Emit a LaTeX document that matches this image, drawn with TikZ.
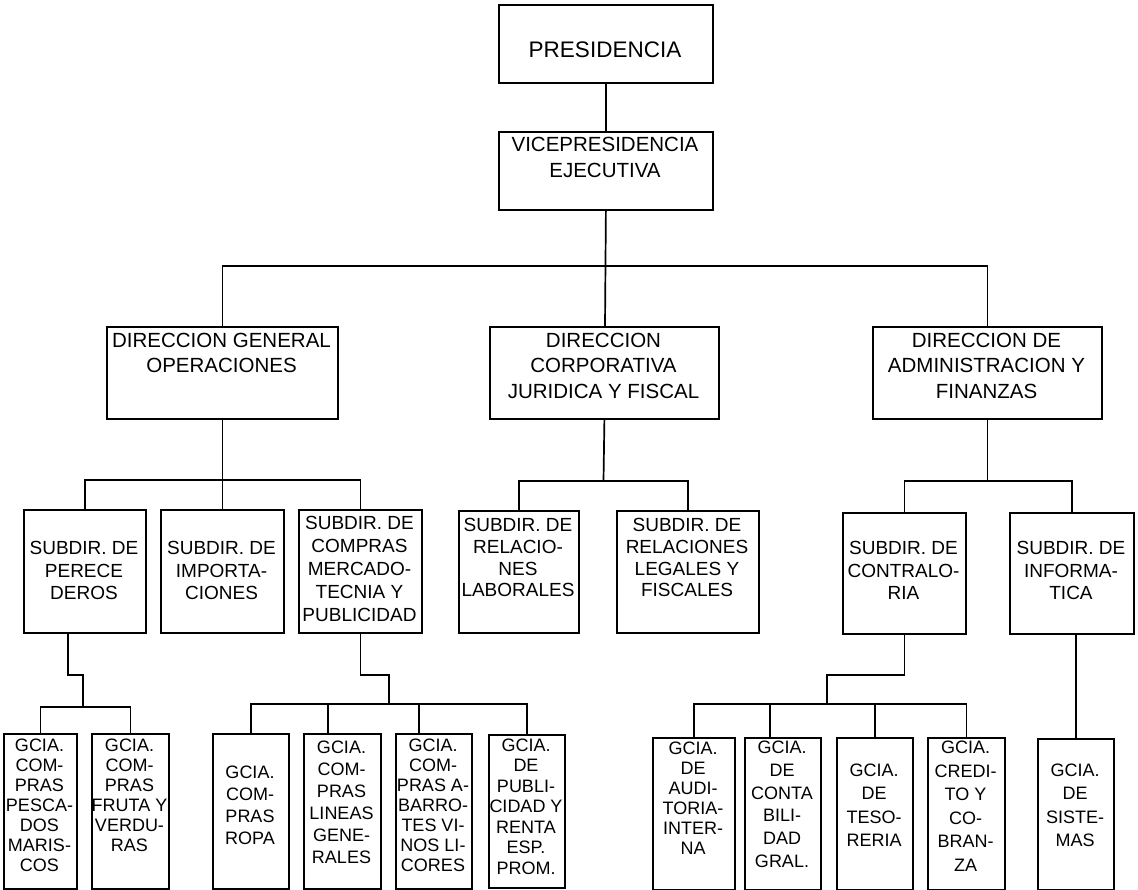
\documentclass[tikz,border=0pt]{standalone}
\usepackage{fontspec}
\setmainfont{Liberation Sans}
% unit box: name, left, top, right, bottom (pixel grid, y downwards)
\newcommand\orgbox[5]{\node[box, minimum width={(#4-#2)*1pt}, minimum height={(#5-#3)*1pt}] (#1) at (#2,#3) {};}
% label: name, centre x, centre of first line, font size, line spacing, text
\newcommand\orgtext[6]{\node[lbl, font=\fontsize{#4}{#5}\selectfont] (#1) at (#2,{#3-0.35*#4}) {#6};}
\begin{document}
\begin{tikzpicture}[x=1pt,y=-1pt,
  box/.style={draw, line width=1.8pt, inner sep=0pt, anchor=north west},
  wire/.style={line width=1.7pt},
  lbl/.style={inner sep=0pt, align=center, anchor=north}]
\useasboundingbox[fill=white] (0,0) rectangle (1138,890);

% ---- boxes
\orgbox{pres}{498}{4}{712}{82}
\orgbox{vice}{498}{131}{712}{209}
\orgbox{dgo}{106}{326}{337}{418}
\orgbox{dcj}{489}{326}{718}{418}
\orgbox{daf}{872}{326}{1101}{418}
\orgbox{per}{23}{509}{145}{632}
\orgbox{imp}{160}{509}{283}{632}
\orgbox{com}{298}{509}{421}{632}
\orgbox{rlab}{458}{510}{578}{632}
\orgbox{rleg}{616}{510}{758}{632}
\orgbox{con}{842}{512}{965}{633}
\orgbox{inf}{1009}{512}{1133}{633}
\orgbox{pes}{3}{733}{76}{888}
\orgbox{fru}{91}{733}{168}{888}
\orgbox{ropa}{212}{733}{288}{888}
\orgbox{lin}{303}{733}{380}{888}
\orgbox{aba}{395}{733}{471}{888}
\orgbox{pub}{488}{734}{564}{887}
\orgbox{aud}{652}{737}{734}{889}
\orgbox{cont}{744}{737}{820}{889}
\orgbox{teso}{836}{737}{912}{889}
\orgbox{cred}{927}{737}{1004}{889}
\orgbox{sis}{1037}{738}{1113}{889}

% ---- labels
\orgtext{pres-t}{605}{49}{22.5}{26}{PRESIDENCIA}
\orgtext{vice-t}{605}{144.5}{20.5}{26}{VICEPRESIDENCIA\\EJECUTIVA}
\orgtext{dgo-t}{221.5}{340}{20.5}{25.5}{DIRECCION GENERAL\\OPERACIONES}
\orgtext{dcj-t}{603.5}{340}{20.5}{25.5}{DIRECCION\\CORPORATIVA\\JURIDICA Y FISCAL}
\orgtext{daf-t}{986.5}{340}{20.5}{25.5}{DIRECCION DE\\ADMINISTRACION Y\\FINANZAS}
\orgtext{per-t}{84}{548}{19}{22.5}{SUBDIR. DE\\PERECE\\DEROS}
\orgtext{imp-t}{221.5}{548}{19}{22.5}{SUBDIR. DE\\IMPORTA-\\CIONES}
\orgtext{com-t}{359.5}{523}{19}{23}{SUBDIR. DE\\COMPRAS\\MERCADO-\\TECNIA Y\\PUBLICIDAD}
\orgtext{rlab-t}{518}{525}{19}{21.7}{SUBDIR. DE\\RELACIO-\\NES\\LABORALES}
\orgtext{rleg-t}{687}{525}{19}{21.7}{SUBDIR. DE\\RELACIONES\\LEGALES Y\\FISCALES}
\orgtext{con-t}{903.5}{548}{19}{22.5}{SUBDIR. DE\\CONTRALO-\\RIA}
\orgtext{inf-t}{1071}{548}{19}{22.5}{SUBDIR. DE\\INFORMA-\\TICA}
\orgtext{pes-t}{39.5}{745}{18}{20}{GCIA.\\COM-\\PRAS\\PESCA-\\DOS\\MARIS-\\COS}
\orgtext{fru-t}{129.5}{745}{18}{20}{GCIA.\\COM-\\PRAS\\FRUTA Y\\VERDU-\\RAS}
\orgtext{ropa-t}{250}{772}{18}{22}{GCIA.\\COM-\\PRAS\\ROPA}
\orgtext{lin-t}{341.5}{747}{18}{22}{GCIA.\\COM-\\PRAS\\LINEAS\\GENE-\\RALES}
\orgtext{aba-t}{433}{745}{18}{20}{GCIA.\\COM-\\PRAS A-\\BARRO-\\TES VI-\\NOS LI-\\CORES}
\orgtext{pub-t}{526}{745}{18}{20.5}{GCIA.\\DE\\PUBLI-\\CIDAD Y\\RENTA\\ESP.\\PROM.}
\orgtext{aud-t}{693}{748}{18}{20}{GCIA.\\DE\\AUDI-\\TORIA-\\INTER-\\NA}
\orgtext{cont-t}{782}{747}{18}{22.8}{GCIA.\\DE\\CONTA\\BILI-\\DAD\\GRAL.}
\orgtext{teso-t}{874}{770}{18}{23.3}{GCIA.\\DE\\TESO-\\RERIA}
\orgtext{cred-t}{965.5}{747}{18}{23.6}{GCIA.\\CREDI-\\TO Y\\CO-\\BRAN-\\ZA}
\orgtext{sis-t}{1075}{770}{18}{23.3}{GCIA.\\DE\\SISTE-\\MAS}

% ---- junction points of the connector buses
\coordinate (tb) at (605,266);
\coordinate (ob) at (222,480);
\coordinate (cb) at (603.5,481);
\coordinate (ab) at (987,481);
\coordinate (pj) at (68,675);
\coordinate (pb) at (83,707);
\coordinate (qj) at (389,675);
\coordinate (qb) at (389,704);
\coordinate (qlin) at (328,704);
\coordinate (qaba) at (419,704);
\coordinate (kj) at (827,675);
\coordinate (kb) at (827,704);
\coordinate (kcont) at (770,704);

% ---- connectors
\draw[wire] (pres.south) -- (vice.north);
\draw[wire] (vice.south) -- (dcj.north -| tb);
\draw[wire] (dgo.north) |- (tb) -| (daf.north);

\draw[wire] (dgo.south) -- (imp.north);
\draw[wire] (per.north) |- (ob) -| (com.north);
\draw[wire] (dcj.south) -- (cb);
\draw[wire] (rlab.north) |- (cb) -| (rleg.north);
\draw[wire] (daf.south) -- (daf.south |- ab);
\draw[wire] (con.north) |- (ab) -| (inf.north);

\draw[wire] (per.south -| pj) -- (pj) -| (pb);
\draw[wire] (pes.north) |- (pb) -| (fru.north);

\draw[wire] (com.south) |- (qj) -- (qb);
\draw[wire] (ropa.north) |- (qb) -| (pub.north);
\draw[wire] (qlin) -- (lin.north -| qlin);
\draw[wire] (qaba) -- (aba.north -| qaba);

\draw[wire] (con.south) |- (kj) -- (kb);
\draw[wire] (aud.north) |- (kb) -| (cred.north);
\draw[wire] (kcont) -- (cont.north -| kcont);
\draw[wire] (teso.north |- kb) -- (teso.north);

\draw[wire] (inf.south -| sis.north) -- (sis.north);
\end{tikzpicture}
\end{document}
